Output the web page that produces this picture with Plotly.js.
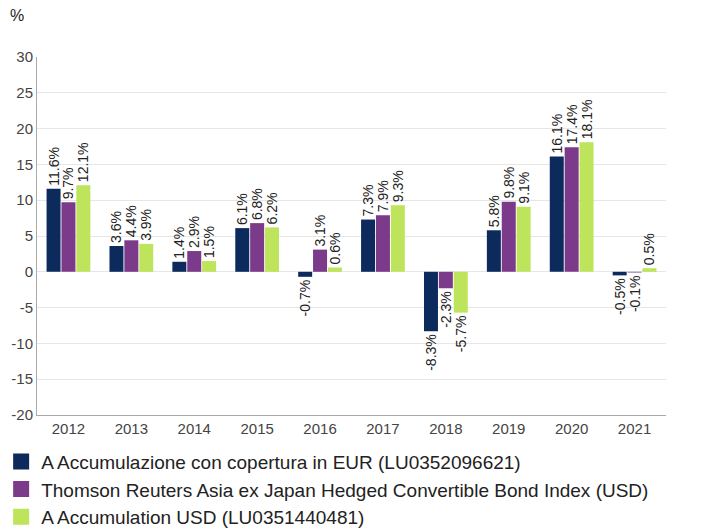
<!DOCTYPE html>
<html>
<head>
<meta charset="utf-8">
<script src="https://cdn.plot.ly/plotly-3.0.1.min.js"></script>
<style>html,body{margin:0;padding:0;background:#fff;}#chart{width:723px;height:529px;}</style>
</head>
<body>
<div id="chart"></div>
<script>
const years = ['2012','2013','2014','2015','2016','2017','2018','2019','2020','2021'];
const seriesNames = [
  'A Accumulazione con copertura in EUR (LU0352096621)',
  'Thomson Reuters Asia ex Japan Hedged Convertible Bond Index (USD)',
  'A Accumulation USD (LU0351440481)'
];
const eurHedged = [11.6, 3.6, 1.4, 6.1, -0.7, 7.3, -8.3, 5.8, 16.1, -0.5];
const benchmark = [9.7, 4.4, 2.9, 6.8, 3.1, 7.9, -2.3, 9.8, 17.4, -0.1];
const usdAcc = [12.1, 3.9, 1.5, 6.2, 0.6, 9.3, -5.7, 9.1, 18.1, 0.5];
const yTickVals = [-20, -15, -10, -5, 0, 5, 10, 15, 20, 25, 30];
const yTickText = ['-20', '-15', '-10', '-5', '0', '5', '10', '15', '20', '25', '30'];
const colors = ['#0c2b5c', '#7c3a8b', '#bde45a'];
const seriesValues = [eurHedged, benchmark, usdAcc];

const font = 'Arial, "Liberation Sans", sans-serif';
const traces = [];
seriesValues.forEach((vals, i) => {
  traces.push({
    type: 'bar', x: years, y: vals, name: seriesNames[i],
    marker: {color: colors[i], line: {width: 0}},
    text: vals.map(v => v.toFixed(1) + '%'),
    textposition: 'outside', textangle: -90, constraintext: 'none',
    cliponaxis: false,
    textfont: {family: font, size: 14, color: '#222'},
    showlegend: false, hoverinfo: 'x+y'
  });
});
seriesValues.forEach((vals, i) => {
  traces.push({
    type: 'scatter', mode: 'markers', x: [null], y: [null], name: seriesNames[i],
    marker: {symbol: 'square', size: 16, color: colors[i]},
    showlegend: true, hoverinfo: 'skip'
  });
});

const layout = {
  width: 723, height: 529,
  margin: {l: 37, r: 57, t: 57, b: 114, autoexpand: false},
  paper_bgcolor: '#fff', plot_bgcolor: '#fff',
  font: {family: font, color: '#444'},
  barmode: 'group', bargap: 0.29, bargroupgap: 0.06,
  xaxis: {
    type: 'category', showgrid: false, showline: true, linecolor: '#aaa', linewidth: 1,
    ticks: '', tickfont: {family: font, size: 15, color: '#444'}, fixedrange: true
  },
  yaxis: {
    range: [-20, 30], tickvals: yTickVals, ticktext: yTickText,
    showgrid: true, gridcolor: '#e6e6e6', zeroline: false,
    showline: true, linecolor: '#aaa', linewidth: 1, ticks: '',
    tickfont: {family: font, size: 15, color: '#444'}, fixedrange: true
  },
  legend: {
    orientation: 'v', x: -0.057, xanchor: 'left', y: -0.077, yanchor: 'top',
    font: {family: font, size: 19, color: '#222'}, tracegroupgap: 0,
    itemwidth: 30, bgcolor: 'rgba(0,0,0,0)'
  },
  annotations: [{
    text: '%', xref: 'paper', yref: 'paper', x: -0.046, y: 1.115,
    xanchor: 'left', yanchor: 'middle', showarrow: false,
    font: {family: font, size: 16, color: '#222'}
  }]
};
Plotly.newPlot('chart', traces, layout, {displayModeBar: false, staticPlot: true});
</script>
</body>
</html>
